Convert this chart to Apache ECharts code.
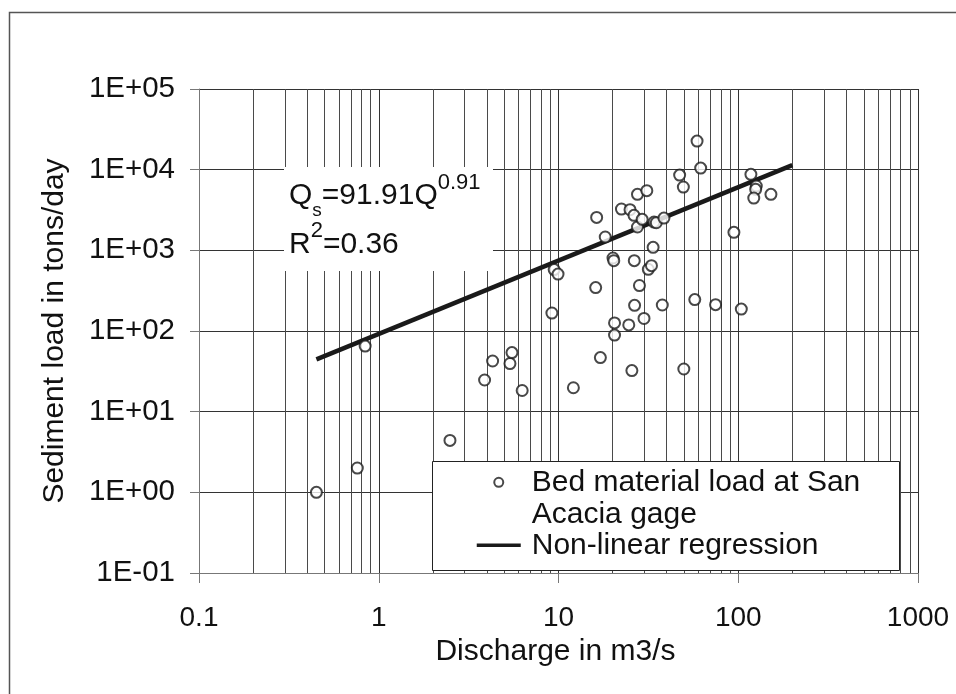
<!DOCTYPE html>
<html>
<head>
<meta charset="utf-8">
<script src="https://cdn.jsdelivr.net/npm/echarts@6/dist/echarts.min.js"></script>
<style>
  html, body { margin: 0; padding: 0; background: #fff; }
  #chart { width: 956px; height: 694px; }
</style>
</head>
<body>
<div id="chart"></div>
<script>
// Bed material load measured at the San Acacia gage (discharge in m3/s, load in tons/day)
const discharge = [0.45, 0.76, 0.84, 2.49, 3.88, 4.3, 5.37, 5.51, 6.28, 9.19, 9.46, 9.94, 12.1, 16.1, 16.3,
  17.1, 18.2, 20.1, 20.3, 20.5, 20.5, 22.4, 24.6, 25.0, 25.6, 26.3, 26.4, 26.5, 27.5, 27.5,
  28.2, 29.2, 29.9, 31.0, 31.6, 32.9, 33.6, 34.0, 35.0, 37.8, 38.6, 47.2, 49.5, 49.8, 57.3,
  59.0, 61.8, 74.8, 94.6, 104, 117.6, 126, 125, 122, 152];
const sedimentLoad = [1.0, 2.0, 65, 4.4, 24.7, 42.5, 39.5, 54, 18.3, 167, 577, 508, 19.8, 345, 2560,
  46.8, 1462, 803, 745, 126, 89, 3250, 119, 3190, 32.3, 2715, 745, 208, 4940, 1945,
  366, 2420, 143, 5490, 582, 646, 1090, 2240, 2200, 210, 2510, 8570, 6090, 33.8, 245,
  22600, 10470, 212, 1670, 187, 8750, 6270, 5700, 4450, 4940];

// Power-law fit Qs = a * Q^b and the discharge range it is drawn over
const fitCoef = 91.91;
const fitExp = 0.91;
const fitRange = [0.45, 200];

// Axis tick labels, one per decade
const xTickLabels = ['0.1', '1', '10', '100', '1000'];
const yTickLabels = ['1E-01', '1E+00', '1E+01', '1E+02', '1E+03', '1E+04', '1E+05'];

// Intermediate vertical grid lines (2..9 within each decade)
const xMinorLines = [0.2, 0.3, 0.4, 0.5, 0.6, 0.7, 0.8, 0.9,
  2, 3, 4, 5, 6, 7, 8, 9,
  20, 30, 40, 50, 60, 70, 80, 90,
  200, 300, 400, 500, 600, 700, 800, 900];

const seriesNames = ['Bed material load at San\nAcacia gage', 'Non-linear regression'];

const FONT = '"Liberation Sans", Arial, Helvetica, sans-serif';
const INK = '#111';
const MARK = '#1a1a1a';

const chart = echarts.init(document.getElementById('chart'), null, { renderer: 'canvas' });

const decadeIndex = (v) => Math.round(Math.log10(v));

const option = {
  animation: false,
  backgroundColor: '#fff',
  grid: { left: 199, top: 89, width: 719, height: 484 },
  xAxis: {
    type: 'log',
    logBase: 10,
    min: 0.1,
    max: 1000,
    splitNumber: 4,
    name: 'Discharge in m3/s',
    nameLocation: 'middle',
    nameGap: 62,
    nameTextStyle: { fontFamily: FONT, fontSize: 30, color: INK, padding: [0, 6, 0, 0] },
    axisLine: { show: true, lineStyle: { color: '#777', width: 1 } },
    axisTick: { show: true, inside: false, length: 10, lineStyle: { color: '#777', width: 1 } },
    axisLabel: {
      margin: 31, fontFamily: FONT, fontSize: 28, color: INK,
      formatter: (v) => xTickLabels[decadeIndex(v) + 1]
    },
    splitLine: { show: true, lineStyle: { color: '#333', width: 1 } },
    minorTick: { show: false },
    minorSplitLine: { show: false }
  },
  yAxis: {
    type: 'log',
    logBase: 10,
    min: 0.1,
    max: 100000,
    splitNumber: 6,
    name: 'Sediment load in tons/day',
    nameLocation: 'middle',
    nameGap: 129,
    nameTextStyle: { fontFamily: FONT, fontSize: 30, color: INK },
    axisLine: { show: true, lineStyle: { color: '#777', width: 1 } },
    axisTick: { show: true, inside: false, length: 9, lineStyle: { color: '#777', width: 1 } },
    axisLabel: {
      margin: 24, fontFamily: FONT, fontSize: 29.5, color: INK,
      formatter: (v) => yTickLabels[decadeIndex(v) + 1]
    },
    splitLine: { show: true, lineStyle: { color: '#333', width: 1 } },
    minorTick: { show: false },
    minorSplitLine: { show: false }
  },
  legend: {
    orient: 'vertical',
    left: 475,
    top: 434.3,
    padding: 0,
    itemGap: 0,
    itemWidth: 44,
    itemHeight: 9,
    selectedMode: false,
    z: 6,
    // the two-line entry gets a leading empty line so its first line sits level with the marker
    formatter: (name) => (name === seriesNames[0] ? ' \n' + name : name),
    textStyle: { fontFamily: FONT, fontSize: 30, color: INK, padding: [0, 0, 0, 6] },
    data: [
      {
        name: seriesNames[0],
        itemStyle: { color: MARK, borderColor: MARK, borderWidth: 1.6 },
        textStyle: { lineHeight: 32 }
      },
      {
        name: seriesNames[1],
        itemStyle: { opacity: 0 },
        lineStyle: { color: MARK, width: 3.5 },
        textStyle: { lineHeight: 28 }
      }
    ]
  },
  series: [
    {
      name: seriesNames[0],
      type: 'scatter',
      symbol: 'emptyCircle',
      symbolSize: 11,
      z: 4,
      itemStyle: { color: MARK, borderColor: MARK, borderWidth: 2.2 },
      emphasis: { disabled: true },
      data: discharge.map((q, i) => [q, sedimentLoad[i]])
    },
    {
      name: seriesNames[1],
      type: 'line',
      symbol: 'none',
      color: MARK,
      z: 4,
      itemStyle: { color: MARK },
      lineStyle: { color: MARK, width: 4.5 },
      emphasis: { disabled: true },
      data: fitRange.map((q) => [q, fitCoef * Math.pow(q, fitExp)])
    },
    {
      // carrier for the intermediate vertical grid lines
      type: 'line',
      data: [],
      silent: true,
      markLine: {
        silent: true,
        z: 1,
        symbol: ['none', 'none'],
        label: { show: false },
        lineStyle: { color: '#4a4a4a', width: 1, type: 'solid' },
        emphasis: { disabled: true },
        data: xMinorLines.map((v) => ({ xAxis: v }))
      }
    }
  ],
  graphic: [
    {
      type: 'rect', silent: true, z: 0,
      shape: { x: 9.5, y: 12.5, width: 1000, height: 720 },
      style: { fill: 'none', stroke: '#555', lineWidth: 1.5 }
    },
    {
      type: 'rect', silent: true, z: 3,
      shape: { x: 284, y: 167, width: 209, height: 104 },
      style: { fill: '#fff' }
    },
    {
      type: 'text', silent: true, z: 5,
      x: 289, y: 171.75,
      style: {
        text: '{m|Q}{sub|s}{m|=91.91Q}{sup|0.91}\n{m|R}{sup|2}{m|=0.36}',
        align: 'left',
        verticalAlign: 'top',
        rich: {
          m: { fontFamily: FONT, fontSize: 30, lineHeight: 48.5, fill: INK },
          sub: { fontFamily: FONT, fontSize: 19, lineHeight: 27, verticalAlign: 'bottom', fill: INK },
          sup: { fontFamily: FONT, fontSize: 22, lineHeight: 25, verticalAlign: 'top', fill: INK }
        }
      }
    },
    {
      type: 'rect', silent: true, z: 3,
      shape: { x: 432.5, y: 461.5, width: 467, height: 109 },
      style: { fill: '#fff', stroke: '#222', lineWidth: 1 }
    }
  ]
};

chart.setOption(option);
</script>
</body>
</html>
